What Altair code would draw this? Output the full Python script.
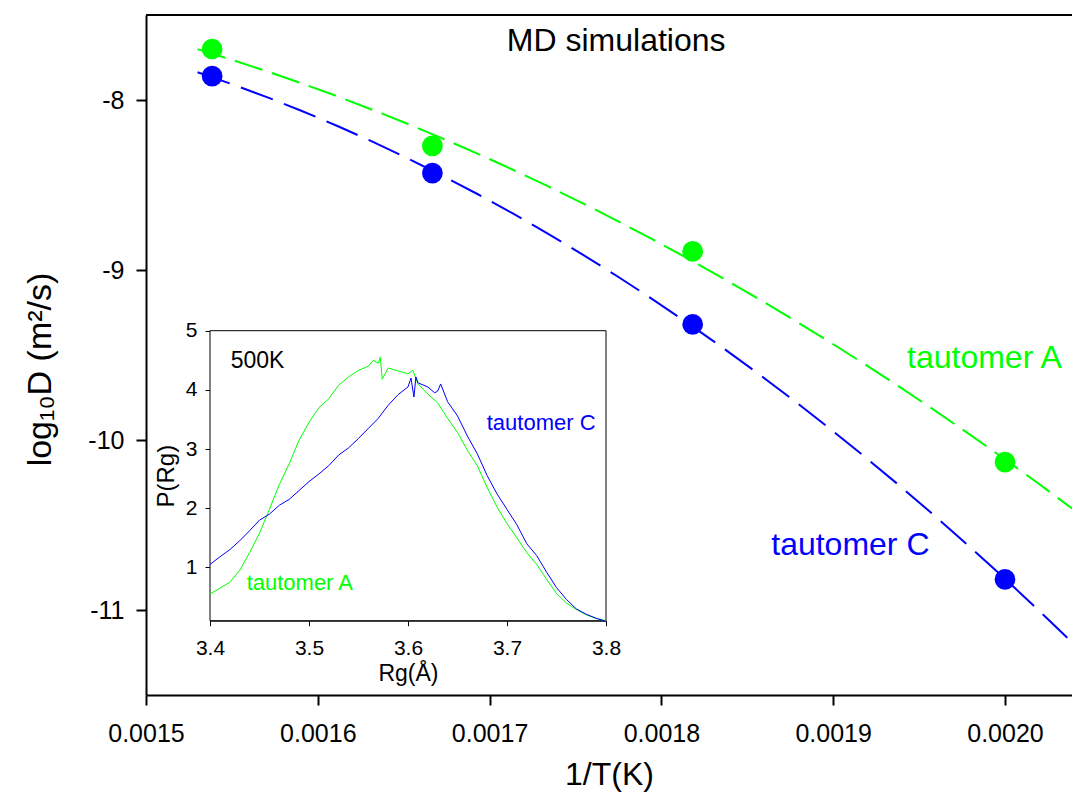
import altair as alt
import pandas as pd

# ---------------- data ----------------
inv_T = [0.0015385, 0.0016667, 0.0018182, 0.0020000]
logD_A = [-7.70, -8.27, -8.89, -10.13]
logD_C = [-7.86, -8.43, -9.32, -10.82]
tautomers = ["tautomer A", "tautomer C"]

x_ticks = [0.0015, 0.0016, 0.0017, 0.0018, 0.0019, 0.0020]
y_ticks = [-8, -9, -10, -11]

rg_A = [3.40, 3.41, 3.42, 3.43, 3.44, 3.45, 3.46, 3.47, 3.48, 3.49, 3.50, 3.51,
        3.52, 3.53, 3.54, 3.55, 3.56, 3.565, 3.57, 3.572, 3.574, 3.58, 3.59, 3.60,
        3.605, 3.61, 3.62, 3.63, 3.64, 3.65, 3.66, 3.67, 3.68, 3.69, 3.70, 3.71,
        3.72, 3.73, 3.74, 3.75, 3.76, 3.77, 3.78, 3.79, 3.80]
p_A = [0.55, 0.65, 0.75, 0.95, 1.25, 1.58, 1.98, 2.40, 2.75, 3.15, 3.45, 3.70,
       3.85, 4.08, 4.22, 4.33, 4.40, 4.50, 4.45, 4.55, 4.18, 4.37, 4.32, 4.27,
       4.33, 4.10, 3.93, 3.78, 3.52, 3.28, 2.98, 2.72, 2.35, 2.02, 1.74, 1.50,
       1.25, 1.05, 0.80, 0.56, 0.40, 0.29, 0.20, 0.14, 0.10]

rg_C = [3.40, 3.41, 3.42, 3.43, 3.44, 3.45, 3.46, 3.47, 3.48, 3.49, 3.50, 3.51,
        3.52, 3.53, 3.54, 3.55, 3.56, 3.57, 3.58, 3.59, 3.60, 3.603, 3.606, 3.608,
        3.61, 3.62, 3.627, 3.63, 3.633, 3.64, 3.65, 3.66, 3.67, 3.68, 3.69, 3.70,
        3.71, 3.72, 3.73, 3.74, 3.75, 3.76, 3.77, 3.78, 3.79, 3.80]
p_C = [1.05, 1.18, 1.30, 1.45, 1.62, 1.80, 1.90, 2.05, 2.15, 2.30, 2.45, 2.58,
       2.72, 2.90, 3.02, 3.18, 3.35, 3.52, 3.74, 3.92, 4.05, 4.20, 3.88, 4.22,
       4.12, 4.05, 3.95, 3.98, 4.10, 3.80, 3.56, 3.22, 2.92, 2.55, 2.24, 1.98,
       1.72, 1.40, 1.20, 0.92, 0.66, 0.46, 0.30, 0.21, 0.14, 0.09]

rg_ticks = [3.4, 3.5, 3.6, 3.7, 3.8]
p_ticks = [1, 2, 3, 4, 5]

GREEN = "#00FF00"
BLUE = "#0000FF"
FONT = "Liberation Sans, Arial, sans-serif"

W, H = 926, 680
X_MAX = 0.002039

# ---------------- main plot ----------------
pts = pd.DataFrame({
    "invT": inv_T * 2,
    "logD": logD_A + logD_C,
    "tautomer": [tautomers[0]] * 4 + [tautomers[1]] * 4,
})

xs = alt.Scale(domain=[0.0015, X_MAX], nice=False, zero=False)
ys = alt.Scale(domain=[-11.5, -7.5], nice=False, zero=False)

X = alt.X("invT:Q", scale=xs, axis=alt.Axis(
    values=x_ticks, format=".4f", title="1/T(K)",
    labelFontSize=25, titleFontSize=32, tickSize=10, tickWidth=2,
    domainWidth=2, labelPadding=16, titlePadding=13, labelFlush=False))
Y = alt.Y("logD:Q", scale=ys, axis=alt.Axis(
    values=y_ticks, labelExpr="'' + datum.value", title="log₁₀D (m²/s)",
    labelFontSize=25, titleFontSize=34, tickSize=10, tickWidth=2,
    domainWidth=2, labelPadding=12, titlePadding=30, titleY=354))

base = alt.Chart(pts)


def fit(name, color, dash):
    return (base.transform_filter(alt.datum.tautomer == name)
            .transform_regression("invT", "logD", method="poly", order=2,
                                  extent=[0.00153, X_MAX])
            .mark_line(color=color, strokeDash=dash, strokeWidth=2, clip=True)
            .encode(x=X, y=Y))


fitA = fit(tautomers[0], GREEN, [29, 10])
fitC = fit(tautomers[1], BLUE, [34, 12])

points = base.mark_circle(size=430, opacity=1).encode(
    x=X, y=Y,
    color=alt.Color("tautomer:N",
                    scale=alt.Scale(domain=tautomers, range=[GREEN, BLUE]),
                    legend=None))


def label(text, x, y, color, size, align="center"):
    d = pd.DataFrame({"invT": [x], "logD": [y], "t": [text]})
    return alt.Chart(d).mark_text(color=color, fontSize=size, font=FONT,
                                  align=align, baseline="middle").encode(
        x=X, y=Y, text="t:N")


txt_md = label("MD simulations", 0.0017737, -7.655, "black", 32)
txt_A = label("tautomer A", 0.001988, -9.52, GREEN, 32)
txt_C = label("tautomer C", 0.001910, -10.62, BLUE, 32)

top_border = alt.Chart(pd.DataFrame({"k": [0]})).mark_rule(
    color="black", strokeWidth=2).encode(
    x=alt.value(0), x2=alt.value(W), y=alt.value(0))

main = alt.layer(fitA, fitC, points, txt_md, txt_A, txt_C, top_border)

# ---------------- inset ----------------
XI = alt.X("Rg:Q",
           scale=alt.Scale(domain=[3.4, 3.8], range=[64, 460], nice=False, zero=False),
           axis=alt.Axis(orient="bottom", offset=-74.3, values=rg_ticks, format=".1f",
                         title="Rg(Å)", labelFontSize=21, titleFontSize=23,
                         tickSize=5, labelPadding=12, titlePadding=4,
                         domainWidth=1, tickWidth=1, labelFlush=False))
YI = alt.Y("P:Q",
           scale=alt.Scale(domain=[0.1, 5], range=[605.7, 315.7], nice=False, zero=False),
           axis=alt.Axis(orient="left", offset=-64, values=p_ticks, format="d",
                         title="P(Rg)", labelFontSize=21, titleFontSize=24,
                         tickSize=5, labelPadding=8, titlePadding=7,
                         domainWidth=1, tickWidth=1, labelFlush=False))

box = alt.Chart(pd.DataFrame({"Rg": [3.4], "Rg2": [3.8], "P": [0.1], "P2": [5.0]})).mark_rect(
    fill="white", stroke="black", strokeWidth=1).encode(
    x=XI, x2="Rg2:Q", y=YI, y2="P2:Q")

curveA = alt.Chart(pd.DataFrame({"Rg": rg_A, "P": p_A})).mark_line(
    color=GREEN, strokeWidth=1).encode(x=XI, y=YI)
curveC = alt.Chart(pd.DataFrame({"Rg": rg_C, "P": p_C})).mark_line(
    color=BLUE, strokeWidth=1).encode(x=XI, y=YI)


def ilabel(text, x, y, color, size=22):
    d = pd.DataFrame({"Rg": [x], "P": [y], "t": [text]})
    return alt.Chart(d).mark_text(color=color, fontSize=size, font=FONT,
                                  align="left", baseline="middle").encode(
        x=XI, y=YI, text="t:N")


inset = alt.layer(box, curveA, curveC,
                  ilabel("500K", 3.4209, 4.49, "black", 23),
                  ilabel("tautomer C", 3.6795, 3.44, BLUE),
                  ilabel("tautomer A", 3.437, 0.73, GREEN))

chart = alt.layer(main, inset).resolve_scale(
    x="independent", y="independent"
).properties(
    width=W, height=H,
    padding={"left": 138, "top": 7, "right": 0, "bottom": 100},
    autosize=alt.AutoSizeParams(type="none"),
    background="white",
).configure_axis(
    grid=False, domainColor="black", tickColor="black", labelColor="black",
    titleColor="black", labelFont=FONT, titleFont=FONT, titleFontWeight="normal",
).configure_view(stroke=None)

chart.save("out.html", embed_options={"renderer": "svg", "actions": False})
